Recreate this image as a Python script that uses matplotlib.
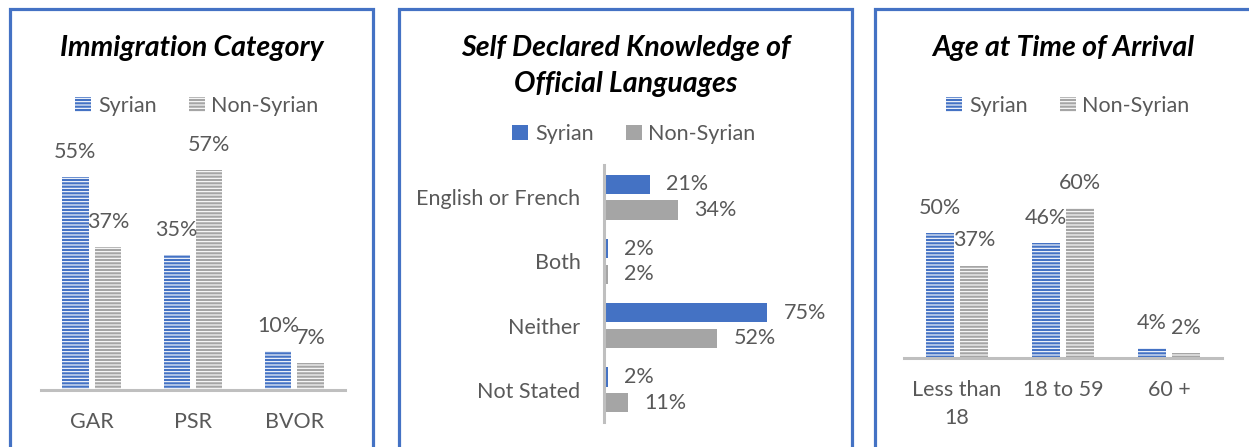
import matplotlib.pyplot as plt
import numpy as np
from matplotlib.patches import Rectangle

plt.rcParams["font.family"] = ["Lato", "DejaVu Sans"]
plt.rcParams["hatch.linewidth"] = 0.8

W, H = 1249, 447
BLUE = "#4472C4"
GREY = "#A5A5A5"
TXT = "#595959"
AXIS = "#BFBFBF"
FRAME = "#4472C4"
FS = 15.5
TFS = 20.5

series = ["Syrian", "Non-Syrian"]

imm_cats = ["GAR", "PSR", "BVOR"]
imm_syrian = [55, 35, 10]
imm_non = [37, 57, 7]

lang_cats = ["English or French", "Both", "Neither", "Not Stated"]
lang_syrian = [21, 2, 75, 2]
lang_non = [34, 2, 52, 11]

age_cats = ["Less than\n18", "18 to 59", "60 +"]
age_syrian = [50, 46, 4]
age_non = [37, 60, 2]


def box(l, t, r, b):
    return [l / W, 1 - b / H, (r - l) / W, (b - t) / H]


def fx(x):
    return x / W


def fy(y):
    return 1 - y / H


fig = plt.figure(figsize=(W / 100, H / 100), dpi=100)

# panel frames (open at the bottom / right like the cropped screenshot)
for l, r in [(10, 373), (399, 852), (875, 1300)]:
    fig.patches.append(
        Rectangle((fx(l), fy(470)), fx(r - l), fy(9) - fy(470),
                  transform=fig.transFigure, fill=False,
                  edgecolor=FRAME, linewidth=2.3)
    )


def column_panel(rect, cats, syr, non, ymax, title, tcx, legy):
    ax = fig.add_axes(box(*rect))
    x = np.arange(len(cats))
    w, off = 0.26, 0.16
    b1 = ax.bar(x - off, syr, w, color=BLUE, hatch="-----",
                edgecolor="white", linewidth=0, label=series[0])
    b2 = ax.bar(x + off, non, w, color=GREY, hatch="-----",
                edgecolor="white", linewidth=0, label=series[1])
    for bars, vals in [(b1, syr), (b2, non)]:
        for rect_, v in zip(bars, vals):
            ax.annotate(f"{v}%", (rect_.get_x() + rect_.get_width() / 2, v),
                        xytext=(0, 25), textcoords="offset pixels",
                        ha="center", va="center", fontsize=FS, color=TXT,
                        annotation_clip=False)
    ax.set_xlim(-0.5, len(cats) - 0.5)
    ax.set_ylim(0, ymax)
    ax.set_yticks([])
    ax.set_xticks(x, cats, fontsize=FS, color=TXT, linespacing=1.5)
    ax.tick_params(axis="x", length=0, pad=16)
    for s in ["top", "left", "right"]:
        ax.spines[s].set_visible(False)
    ax.spines["bottom"].set_color(AXIS)
    ax.spines["bottom"].set_linewidth(2.2)
    ax.patch.set_alpha(0)
    fig.text(fx(tcx), fy(48), title, ha="center", va="center",
             fontsize=TFS, fontweight="bold", fontstyle="italic", color="black")
    ax.legend(loc="center", bbox_to_anchor=(fx(tcx + 5), fy(legy)),
              bbox_transform=fig.transFigure, ncol=2, frameon=False,
              fontsize=FS, labelcolor=TXT, handlelength=0.75,
              handleheight=0.75, handletextpad=0.3, columnspacing=1.5)
    return ax


column_panel((41, 158, 345, 390), imm_cats, imm_syrian, imm_non, 60,
             "Immigration Category", 192, 106)
column_panel((904, 208, 1222, 358), age_cats, age_syrian, age_non, 60,
             "Age at Time of Arrival", 1063, 106)

# language panel (horizontal bars)
ax = fig.add_axes(box(604, 165, 822, 422))
y = np.arange(len(lang_cats))
h, off = 0.30, 0.20
b1 = ax.barh(y - off, lang_syrian, h, color=BLUE, label=series[0])
b2 = ax.barh(y + off, lang_non, h, color=GREY, label=series[1])
for bars, vals in [(b1, lang_syrian), (b2, lang_non)]:
    for rect_, v in zip(bars, vals):
        ax.annotate(f"{v}%", (v, rect_.get_y() + rect_.get_height() / 2),
                    xytext=(16, 0), textcoords="offset pixels",
                    ha="left", va="center", fontsize=FS, color=TXT,
                    annotation_clip=False)
ax.set_xlim(0, 100)
ax.set_ylim(len(lang_cats) - 0.5, -0.5)
ax.set_xticks([])
ax.set_yticks(y, lang_cats, fontsize=FS, color=TXT)
ax.tick_params(axis="y", length=0, pad=17)
for s in ["top", "bottom", "right"]:
    ax.spines[s].set_visible(False)
ax.spines["left"].set_color(AXIS)
ax.spines["left"].set_linewidth(2.2)
ax.patch.set_alpha(0)
fig.text(fx(626), fy(48), "Self Declared Knowledge of", ha="center",
         va="center", fontsize=TFS, fontweight="bold", fontstyle="italic")
fig.text(fx(626), fy(84), "Official Languages", ha="center",
         va="center", fontsize=TFS, fontweight="bold", fontstyle="italic")
ax.legend(loc="center", bbox_to_anchor=(fx(634), fy(134)),
          bbox_transform=fig.transFigure, ncol=2, frameon=False,
          fontsize=FS, labelcolor=TXT, handlelength=0.75,
          handleheight=0.75, handletextpad=0.3, columnspacing=1.5)

fig.savefig("out.png", dpi=100)
